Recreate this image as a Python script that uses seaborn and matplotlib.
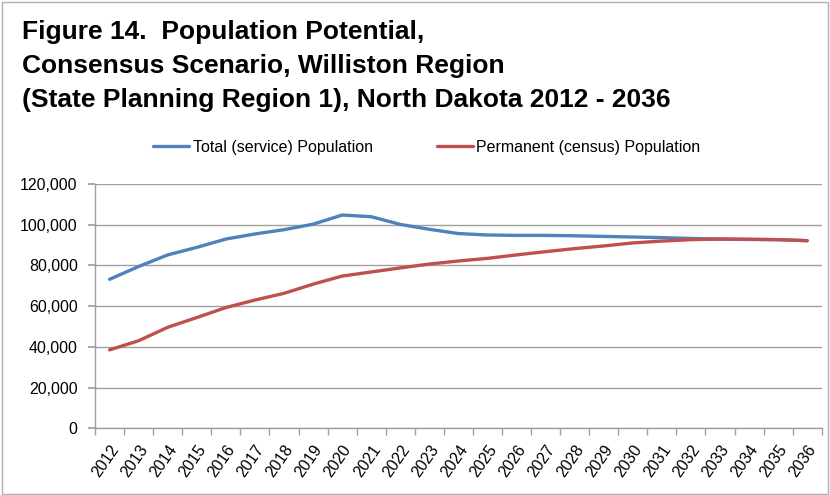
import seaborn as sns
import matplotlib.pyplot as plt
import matplotlib.patches as mpatches
import matplotlib.ticker as mticker
import pandas as pd

# Data
years = list(range(2012, 2037))
total_pop = [73200, 79500, 85200, 88900, 93000, 95500, 97600, 100300, 104800, 104000,
             100200, 97800, 95700, 95000, 94800, 94800, 94600, 94300, 94000, 93700,
             93300, 93000, 92800, 92700, 92200]
permanent_pop = [38500, 43000, 49600, 54400, 59300, 63000, 66300, 70800, 74800, 76800,
                 78800, 80700, 82200, 83500, 85200, 86800, 88300, 89600, 91100, 92000,
                 92700, 93000, 92900, 92700, 92200]
series_names = ['Total (service) Population', 'Permanent (census) Population']
title_lines = ['Figure 14.  Population Potential,',
               'Consensus Scenario, Williston Region',
               '(State Planning Region 1), North Dakota 2012 - 2036']

data = pd.DataFrame({
    'Year': years * 2,
    'Population': total_pop + permanent_pop,
    'Series': [series_names[0]] * len(years) + [series_names[1]] * len(years),
})

palette = {series_names[0]: '#4F81BD', series_names[1]: '#C0504D'}

sns.set_theme(style='white')
plt.rcParams['font.family'] = ['Liberation Sans', 'DejaVu Sans']
plt.rcParams['text.color'] = 'black'
plt.rcParams['xtick.color'] = 'black'
plt.rcParams['ytick.color'] = 'black'

fig = plt.figure(figsize=(8.3, 4.95), dpi=100)
ax = fig.add_axes([0.1145, 0.135, 0.8755, 0.493])

sns.lineplot(data=data, x='Year', y='Population', hue='Series', palette=palette,
             linewidth=2.4, ax=ax, legend=False)

# axes styling, Excel-like
ax.set_xlim(2011.5, 2036.5)
ax.set_ylim(0, 120000)
ax.yaxis.set_major_locator(mticker.MultipleLocator(20000))
ax.yaxis.set_major_formatter(mticker.FuncFormatter(lambda v, p: f'{int(v):,}'))
ax.grid(True, axis='y', color='#A0A0A0', linewidth=1)
ax.set_axisbelow(True)
for side in ['top', 'right']:
    ax.spines[side].set_visible(False)
for side in ['left', 'bottom']:
    ax.spines[side].set_color('#A0A0A0')
    ax.spines[side].set_linewidth(1)

ax.set_xticks(years)
ax.set_xticklabels([str(y) for y in years], rotation=55, ha='right', rotation_mode='anchor',
                   fontsize=11.5)
ax.set_xticks([y + 0.5 for y in [2011] + years], minor=True)
ax.tick_params(axis='x', which='major', length=0, pad=10)
ax.tick_params(axis='x', which='minor', length=5, color='#A0A0A0', direction='out', bottom=True)
ax.tick_params(axis='y', length=5, color='#A0A0A0', direction='out', left=True,
               labelsize=11.5, labelcolor='black', pad=7.5)
ax.set_xlabel('')
ax.set_ylabel('')

# title, one line at a time
for i, line in enumerate(title_lines):
    fig.text(0.026, 0.921 - i * 0.0687, line, fontsize=19, fontweight='bold',
             va='baseline', ha='left')

# legend
handles = [plt.Line2D([], [], color=palette[n], linewidth=2.4) for n in series_names]
fig.legend(handles, series_names, loc='center', bbox_to_anchor=(0.514, 0.703), ncol=2,
           frameon=False, fontsize=11.5, handlelength=2.3, handletextpad=0.2, columnspacing=4)

# light border around the chart
fig.patches.append(mpatches.Rectangle((0.003, 0.003), 0.994, 0.992, transform=fig.transFigure,
                                      fill=False, edgecolor='#B0B0B0', linewidth=1))

plt.savefig('out.png', dpi=100)
